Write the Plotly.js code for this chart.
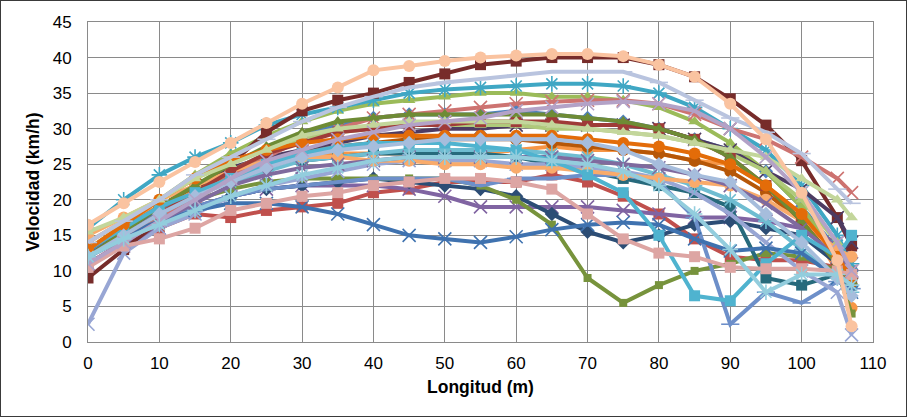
<!DOCTYPE html>
<html>
<head>
<meta charset="utf-8">
<script src="https://cdn.plot.ly/plotly-3.0.1.min.js"></script>
<style>
html,body{margin:0;padding:0;background:#fff;}
#wrap{width:907px;height:417px;border:1px solid #3a3a3a;box-sizing:border-box;background:#fff;}
#chart{width:905px;height:415px;}
</style>
</head>
<body>
<div id="wrap"><div id="chart"></div></div>
<script>
const longitud = [0,5,10,15,20,25,30,35,40,45,50,55,60,65,70,75,80,85,90,95,100,105,107];
const xTicks = [0,10,20,30,40,50,60,70,80,90,100,110];
const yTicks = [0,5,10,15,20,25,30,35,40,45];

const s01 = [12.5,15.5,18.5,21.5,24,26.5,29,30.5,31.5,32,32,32,32.5,32,31.5,31,30,28.5,27,24,19,13,10];
const s02 = [11,14,16,18,17.5,18.5,19,19.5,21,21.5,22.5,22.5,22.5,23.5,22.5,20.5,18,14.5,12,11.5,11.5,10.5,10];
const s03 = [13,16.5,20,23.5,26.5,29,31,32.5,33.5,34,34.5,35,35,34.5,34.5,34,33,31,28,24,19,12,8];
const s04 = [11,13.5,16,18.5,20.5,21.5,22,22,22,21.5,20.5,19,19,19,19,18.5,18,17.5,17.5,17,16,14,11];
const s05 = [16,20,23.5,26,28,30.5,32,33,34,35,35.5,35.8,36,36.3,36.3,36,35,33,30,27,22,15,11];
const s06 = [14,17,19,21.5,23,25,26,26.5,26.5,26.5,26.5,26.5,27,27.5,27,27,26.5,25.5,25,22,18,10,4.8];
const s07 = [12,14.5,17,19,20.5,21.5,22,22.5,23,22.5,22,21.5,20.5,18,15.5,14,15,16.5,17,16,15,11,9];
const s08 = [9,13,17,21,25,29.5,32.5,34,35,36.5,37.7,39,39.5,40,40,40,39,37.3,34.2,30.5,25.5,17.5,13.5];
const s09 = [12,15,18,20,21.5,22.5,23,23,23,23,23,22,20,16.5,9,5.5,8,10,11,12.5,12,10,4];
const s10 = [12,15.5,19,22,24.5,26,27,28,29,29.5,30,30,30.5,30.5,30.5,30.5,30,28.5,27,24,21.5,17.5,14];
const s11 = [12,15,18,21,23,24.5,25.5,26,26.5,26.5,26.5,26.5,26,25,24,23,22,21,19,9,8,9.5,8];
const s12 = [13,16,19,22,24,25.5,26.5,27.5,28,28.5,28.5,28.5,28.5,28,27.5,27,26.5,25.5,24,21,17,11,8];
const s13 = [12,14.5,17,19,20.5,21.5,22,22.5,23,23,23,22,23,23,23.5,23.5,22.5,17.5,2.5,7,5.5,8.5,7.5];
const s14 = [11,14,17.5,20.5,23.5,26,28.5,30,31.5,32,32.5,33,33.5,33.8,34,34,33.5,32,30,28.5,26,23,21];
const s15 = [12,15,18,21,24,26.5,28.5,29.5,30,30.5,30.5,30.5,30.5,30,30,29.5,29,28,26.5,24,20,14,10];
const s16 = [2.5,12.5,16,18,20.5,22,23,24,25,25.5,25.5,25.5,25,25,24.5,24,23,21,18,14,10,7,1];
const s17 = [12,15,18,20.5,22.5,24,25.5,26,26.5,27,27,27,27,26.5,26,25,23.5,22,20,17,13,9,7];
const s18 = [15,17.5,20,22,24,25.5,26,26,25.5,25.5,25,25,24.5,24.5,24,23.5,23,22.5,22,20,17,13,12];
const s19 = [12,15,17,18.5,19.5,19.5,19,18,16.5,15,14.5,14,14.8,15.8,16.5,16.8,16.5,14.5,12.8,13.2,12.5,9,7];
const s20 = [12,15,18,21,24,26.5,28,29.5,30,30.5,30.5,31,31,31,30.5,30.5,30,28.5,26,22,17,11,9];
const s21 = [12,15.5,19,22,25,27.5,29.5,31,31.5,32,32,32,32,32,31.5,31,30,28.5,26,22,17,11,8.5];
const s22 = [11,14,17,19.5,22,23.5,24.5,25,25.5,26,26,26,26,26,25.5,25,24.5,23.5,22,19.5,16,12,10];
const s23 = [13,16,19,21,23,25,26.5,27.5,28,28,28,27.5,27,25.5,23.5,21,15,6.5,5.8,11,15,12,15];
const s24 = [13,16.5,20,23,25.5,27,28,28.5,29,29,29,29,29,29,28.5,28,27.5,26.5,25,22,18,12,9];
const s25 = [12,15,18,20.5,22.5,24.5,26,27,27.5,28,28.5,28.5,28.5,28.5,28,27,25,23.5,22.5,18,14,9,6.5];
const s26 = [10.5,13.5,14.5,16,18.5,19.5,20.5,21,22,22.5,23,23,22.5,21.5,18,14.5,12.5,12,10.5,10.3,10.3,10,9.5];
const s27 = [15.5,17.5,20,23,25,27,29,30,30.5,31,31,31,31,30.5,30,29.5,29,28,27,26,23,20,17.5];
const s28 = [11,14,17,20,23,25.5,27,28.5,29.5,30.5,31,31.5,32.5,33,33.5,33.8,33.5,32.5,30,26,21,14,10];
const s29 = [12,14.5,16.5,18.5,20.5,22,23.5,24.5,25.5,26,26,26,26,25.5,25,24,22,18,13,7,9.5,9.5,8];
const s30 = [14,17,20,23.5,26,28.5,31,33,34.5,35.8,36.5,37,37.5,38,38,38,36.5,34,31.5,29.5,26.5,21.5,19.5];
const s31 = [16.5,19.5,22.5,25.3,28,30.8,33.5,35.8,38.2,38.8,39.5,40,40.3,40.5,40.5,40.2,39,37.3,33.5,28.5,21,11.5,2.2];

const seriesData = [s01,s02,s03,s04,s05,s06,s07,s08,s09,s10,s11,s12,s13,s14,s15,s16,s17,s18,s19,s20,s21,s22,s23,s24,s25,s26,s27,s28,s29,s30,s31];

// styles (kept separate from data)
const styles = [
  ['#4F81BD','diamond'], ['#C0504D','square'], ['#9BBB59','triangle-up'], ['#8064A2','x-thin-open'],
  ['#3FA7C4','asterisk-open'], ['#F79646','circle'], ['#2C4D75','diamond'], ['#772C2A','square'],
  ['#77933C','square'], ['#4D3B62','x-thin-open'], ['#276A7C','square'], ['#B65708','circle'],
  ['#6D8FC9','line-ew-open'], ['#CD7371','x-thin-open'], ['#AFC97A','triangle-up'], ['#98A6D4','x-thin-open'],
  ['#6FBDD1','asterisk-open'], ['#F9AB6B','circle'], ['#3F72AF','x-thin-open'], ['#9F3B38','square'],
  ['#6E8B35','triangle-up'], ['#7F6A9E','x-thin-open'], ['#4FB3CF','square'], ['#E36C09','circle'],
  ['#A6BDDC','diamond'], ['#DDA5A3','square'], ['#C3D69B','triangle-up'], ['#B3A2C7','x-thin-open'],
  ['#93CDDD','asterisk-open'], ['#B9C4DF','line-ew-open'], ['#FAC3A0','circle']
];

const traces = seriesData.map((ys, i) => {
  const c = styles[i][0], sym = styles[i][1];
  const open = sym.indexOf('open') >= 0;
  let size = 11;
  if (open) size = 13;
  if (sym === 'circle') size = 12;
  if (i === 8) size = 8;
  return {
    type: 'scatter', mode: 'lines+markers', x: longitud, y: ys,
    line: {color: c, width: 4},
    marker: {symbol: sym, size: size, color: c, line: {color: c, width: open ? 1.6 : 0}},
    showlegend: false, hoverinfo: 'skip'
  };
});

const layout = {
  width: 905, height: 415,
  margin: {l: 87, r: 33, t: 21, b: 74},
  paper_bgcolor: '#ffffff', plot_bgcolor: '#ffffff',
  font: {family: 'Liberation Sans, Arial, sans-serif', size: 17, color: '#000'},
  showlegend: false,
  xaxis: {
    range: [0, 110], tickvals: xTicks, ticktext: xTicks.map(String),
    showgrid: true, gridcolor: '#8a8a8a', gridwidth: 1,
    showline: true, linecolor: '#8a8a8a', linewidth: 1, mirror: true,
    zeroline: false, ticks: '', ticklabelstandoff: 6,
    tickfont: {size: 17},
    title: {text: 'Longitud (m)', font: {size: 17.5, family: 'Liberation Sans, Arial, sans-serif', weight: 'bold'}, standoff: 8}
  },
  yaxis: {
    range: [0, 45], tickvals: yTicks, ticktext: yTicks.map(String),
    showgrid: true, gridcolor: '#8a8a8a', gridwidth: 1,
    showline: true, linecolor: '#8a8a8a', linewidth: 1, mirror: true,
    zeroline: false, ticks: '', ticklabelstandoff: 12,
    tickfont: {size: 17},
    title: {text: 'Velocidad (km/h)', font: {size: 17.5, family: 'Liberation Sans, Arial, sans-serif', weight: 'bold'}, standoff: 8}
  }
};

Plotly.newPlot('chart', traces, layout, {staticPlot: true, displayModeBar: false});
</script>
</body>
</html>
